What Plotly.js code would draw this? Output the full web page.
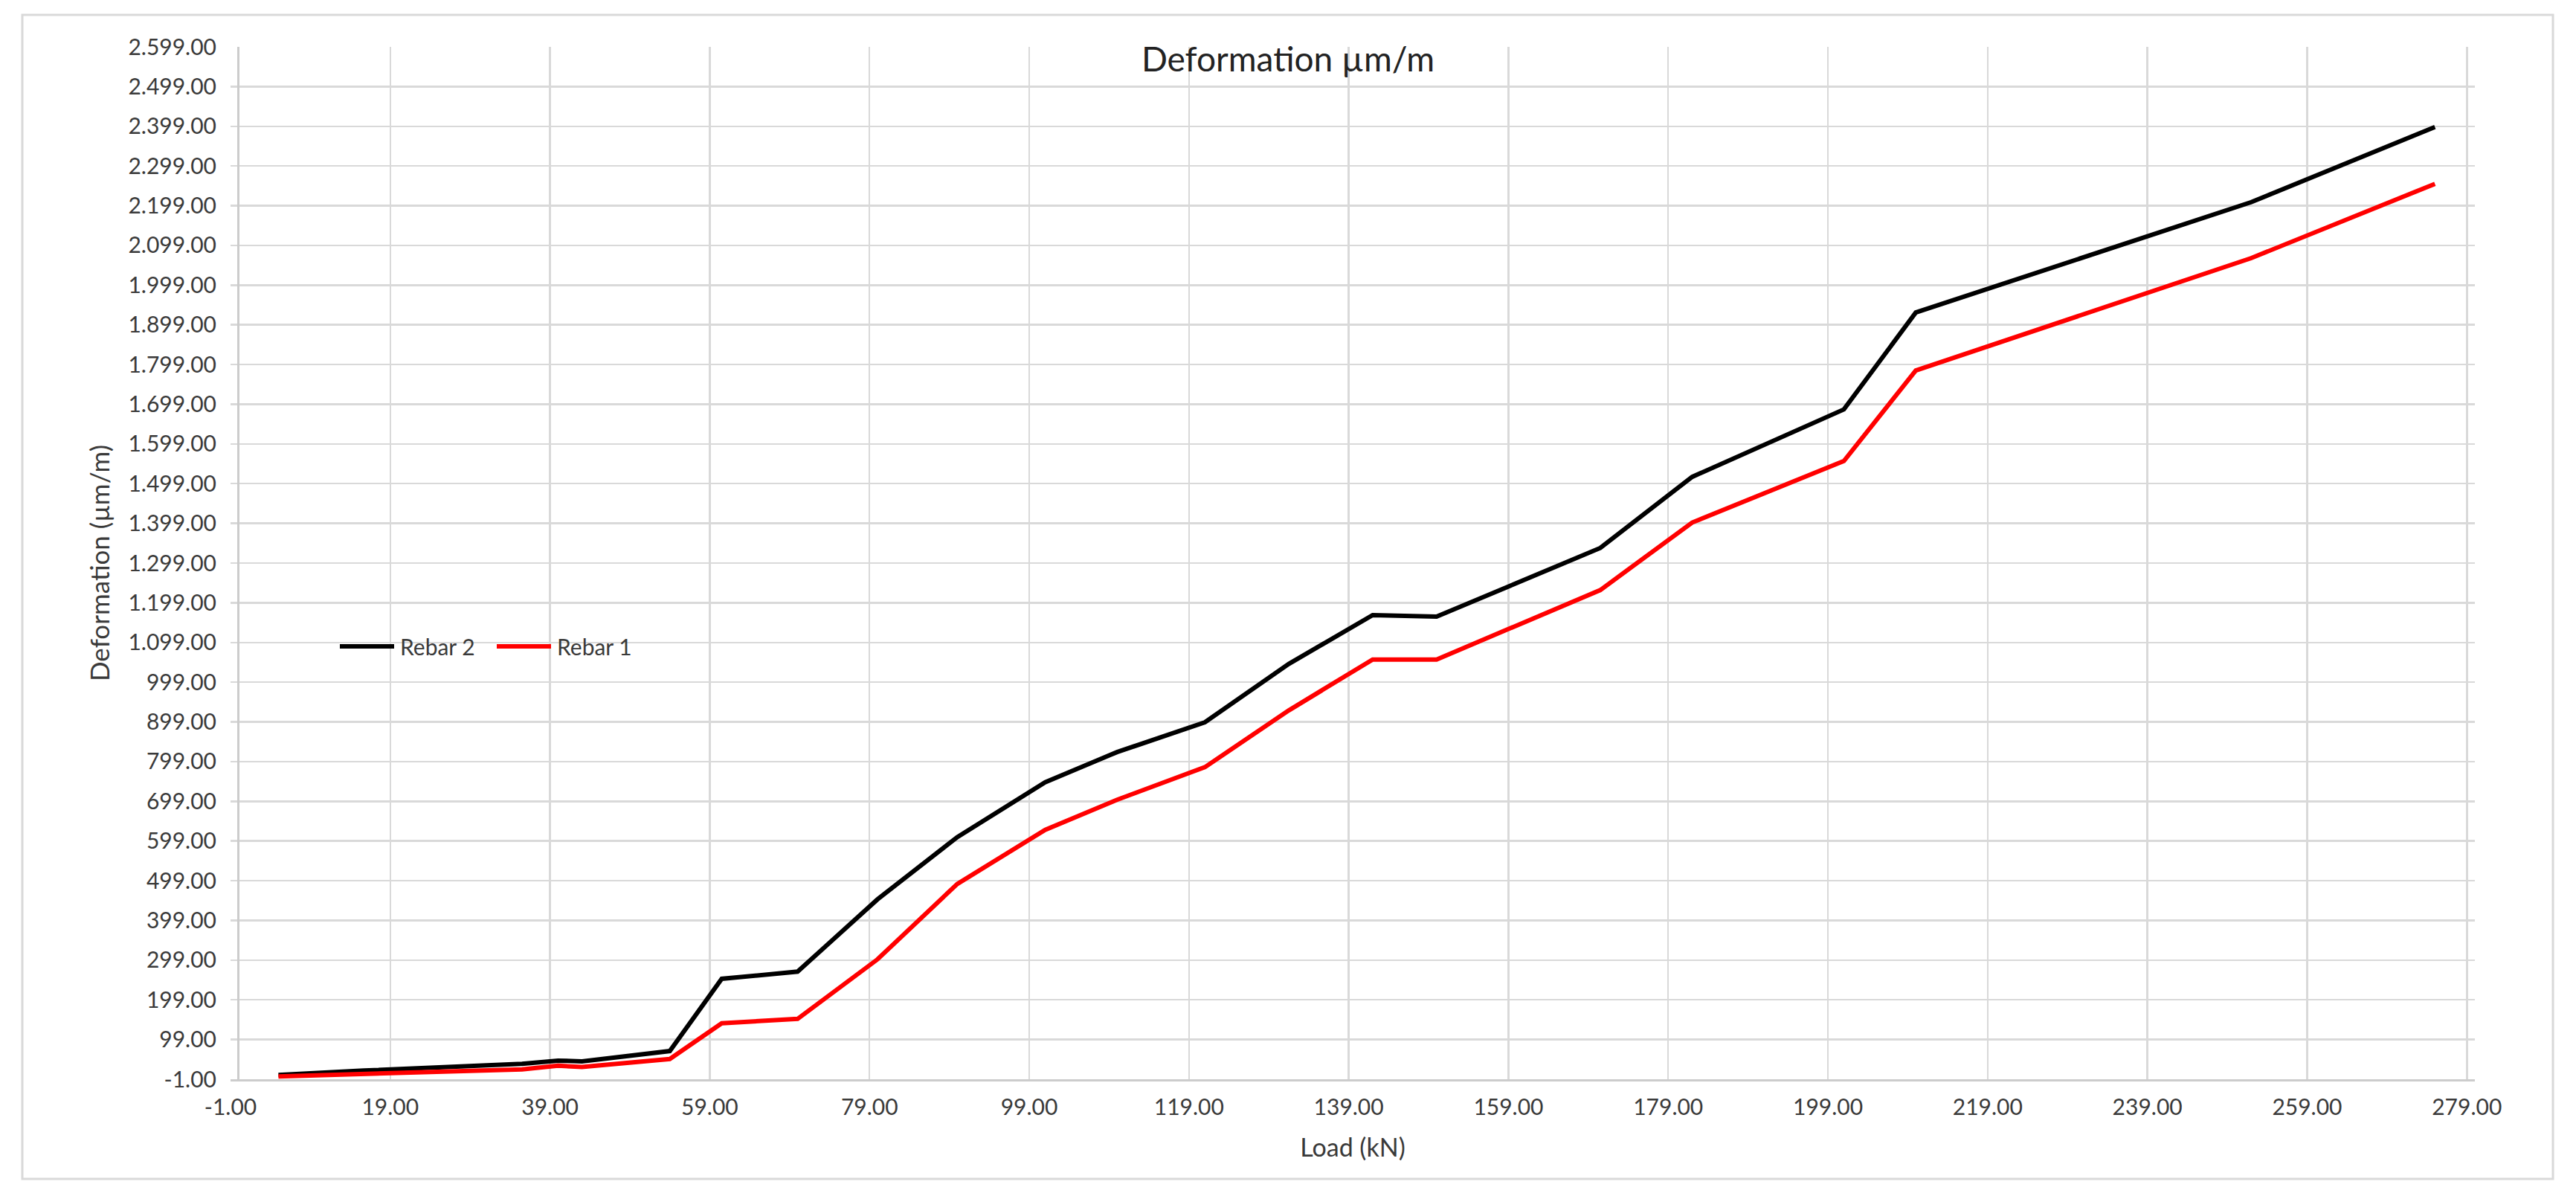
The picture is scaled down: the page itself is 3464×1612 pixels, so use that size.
<!DOCTYPE html>
<html>
<head>
<meta charset="utf-8">
<script src="https://cdn.plot.ly/plotly-3.0.1.min.js"></script>
<style>
  html, body { margin: 0; padding: 0; background: #ffffff; }
  #chart { width: 3464px; height: 1612px; }
</style>
</head>
<body>
<div id="chart"></div>
<script>
// ---- data ----
const load = [5, 15.7, 35.5, 40, 43, 54, 60.5, 70, 80, 90, 101, 110, 121, 131.5, 142, 150, 170.5, 182, 201, 210, 252, 275];
const rebar2 = [10, 21, 38, 46, 44, 70, 252, 270, 452, 609, 747, 823, 898, 1045, 1168, 1164, 1337, 1516, 1686, 1930, 2208, 2397];
const rebar1 = [6, 12, 24, 33, 30, 50, 140, 151, 301, 491, 627, 703, 785, 928, 1056, 1056, 1231, 1401, 1556, 1784, 2067, 2254];

const xTickVals = [-1, 19, 39, 59, 79, 99, 119, 139, 159, 179, 199, 219, 239, 259, 279];
const xTickText = ["-1.00", "19.00", "39.00", "59.00", "79.00", "99.00", "119.00", "139.00", "159.00", "179.00", "199.00", "219.00", "239.00", "259.00", "279.00"];
const yTickVals = [-1, 99, 199, 299, 399, 499, 599, 699, 799, 899, 999, 1099, 1199, 1299, 1399, 1499, 1599, 1699, 1799, 1899, 1999, 2099, 2199, 2299, 2399, 2499, 2599];
const yTickText = ["-1.00", "99.00", "199.00", "299.00", "399.00", "499.00", "599.00", "699.00", "799.00", "899.00", "999.00", "1.099.00", "1.199.00", "1.299.00", "1.399.00", "1.499.00", "1.599.00", "1.699.00", "1.799.00", "1.899.00", "1.999.00", "2.099.00", "2.199.00", "2.299.00", "2.399.00", "2.499.00", "2.599.00"];

const FONT = "Lato, 'Open Sans', 'Liberation Sans', sans-serif";
const TXT = "#3a3a3a";
const GRID = "#d9d9d9";

const traces = [
  { x: load, y: rebar2, name: "Rebar 2", type: "scatter", mode: "lines",
    line: { color: "#000000", width: 6 } },
  { x: load, y: rebar1, name: "Rebar 1", type: "scatter", mode: "lines",
    line: { color: "#ff0000", width: 6 } }
];

const W = 3464, H = 1612;
const ML = 310, MR = 136, MT = 63, MB = 161;
const PW = W - ML - MR, PH = H - MT - MB;
function px2paperX(p) { return (p - ML) / PW; }
function px2paperY(p) { return (H - MB - p) / PH; }

const layout = {
  width: W, height: H,
  margin: { l: ML, r: MR, t: MT, b: MB, pad: 0 },
  paper_bgcolor: "#ffffff",
  plot_bgcolor: "#ffffff",
  font: { family: FONT, color: TXT, size: 30 },
  title: {
    text: "Deformation µm/m",
    font: { family: FONT, size: 46, color: "#222222" },
    x: 0.5, xref: "container", xanchor: "center",
    y: 1 - 80 / H, yref: "container", yanchor: "middle"
  },
  showlegend: true,
  legend: {
    orientation: "h",
    x: px2paperX(452), xanchor: "left",
    y: px2paperY(869), yanchor: "middle",
    bgcolor: "rgba(0,0,0,0)",
    font: { family: FONT, size: 30, color: TXT },
    traceorder: "normal"
  },
  xaxis: {
    range: [-1, 280],
    tickmode: "array", tickvals: xTickVals, ticktext: xTickText,
    showgrid: true, gridcolor: GRID, gridwidth: 2.5,
    zeroline: true, zerolinecolor: "#cccccc", zerolinewidth: 2.5,
    showline: true, linecolor: "#cccccc", linewidth: 2.5,
    ticks: "", ticklabelstandoff: 9,
    tickfont: { family: FONT, size: 30, color: TXT },
    title: { text: "Load (kN)", font: { family: FONT, size: 34, color: TXT }, standoff: 28 },
    fixedrange: true
  },
  yaxis: {
    range: [-1, 2599],
    tickmode: "array", tickvals: yTickVals, ticktext: yTickText,
    showgrid: true, gridcolor: GRID, gridwidth: 2.5,
    zeroline: false,
    showline: false,
    ticks: "", ticklabelstandoff: 18,
    tickfont: { family: FONT, size: 30, color: TXT },
    title: { text: "Deformation (µm/m)", font: { family: FONT, size: 35, color: TXT }, standoff: 14 },
    fixedrange: true
  },
  shapes: [
    { type: "rect", xref: "paper", yref: "paper",
      x0: px2paperX(30), x1: px2paperX(3433), y0: px2paperY(1585), y1: px2paperY(20),
      line: { color: "#d9d9d9", width: 3 }, fillcolor: "rgba(0,0,0,0)", layer: "below" }
  ]
};

Plotly.newPlot("chart", traces, layout, { staticPlot: true, displayModeBar: false }).then(function (gd) {
  // Excel-style legend: longer line keys, items spaced as in the reference
  const LINE_LEN = 73, TEXT_GAP = 8, ITEM_STEP = 211;
  // let the widened legend draw outside its computed box
  gd.querySelectorAll(".legend [clip-path]").forEach(function (el) { el.removeAttribute("clip-path"); });
  const legendRoot = gd.querySelector(".legend");
  if (legendRoot) legendRoot.removeAttribute("clip-path");
  const items = Array.prototype.slice.call(gd.querySelectorAll(".legend .traces"));
  let baseX = null;
  items.forEach(function (g, i) {
    g.querySelectorAll(".legendlines path").forEach(function (p) {
      p.setAttribute("d", "M5,0h" + LINE_LEN);
    });
    const t = g.querySelector("text.legendtext");
    if (t) t.setAttribute("x", 5 + LINE_LEN + TEXT_GAP);
    const tr = g.getAttribute("transform") || "";
    const m = tr.match(/translate\(\s*([-\d.]+)[ ,]+([-\d.]+)\s*\)/);
    const x = m ? parseFloat(m[1]) : 0;
    const y = m ? parseFloat(m[2]) : 0;
    if (baseX === null) baseX = x;
    g.setAttribute("transform", "translate(" + (baseX + i * ITEM_STEP) + "," + y + ")");
  });
});
</script>
</body>
</html>
